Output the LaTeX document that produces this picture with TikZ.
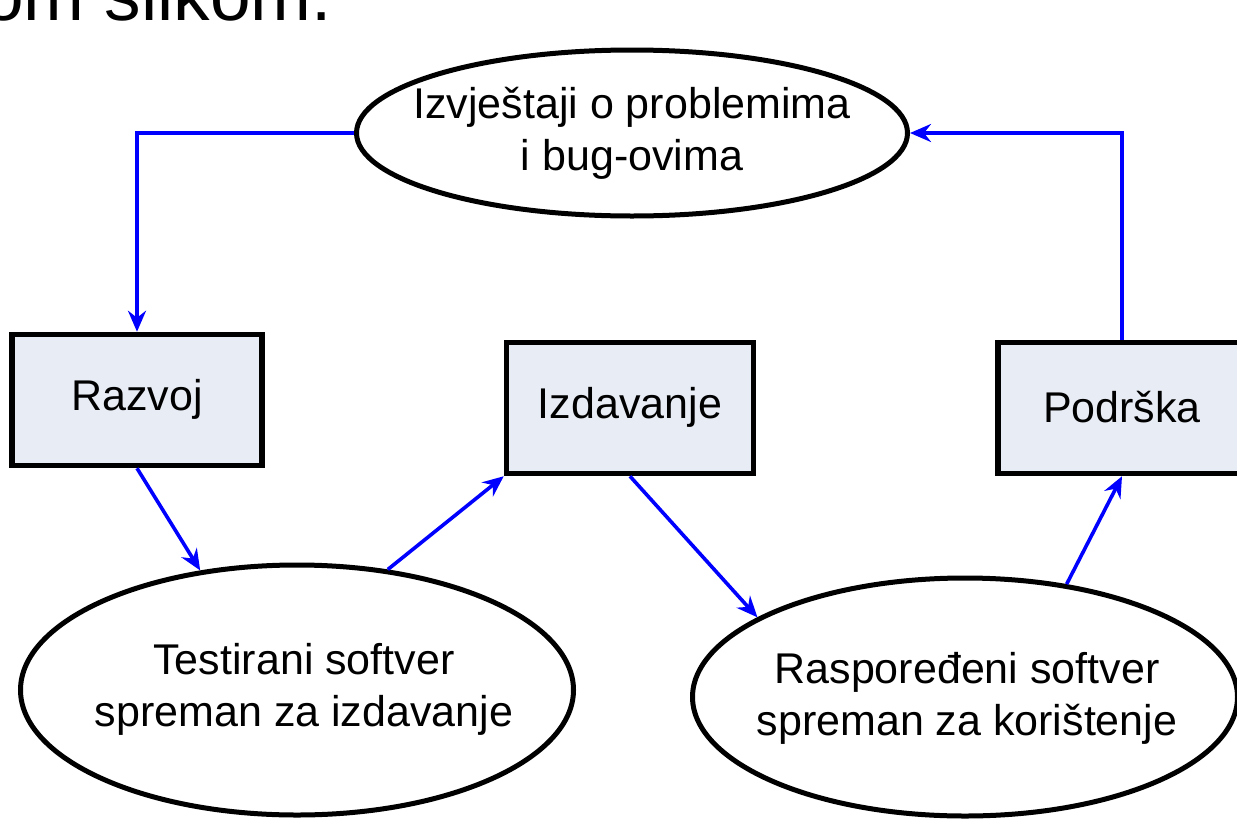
\documentclass[tikz,border=0pt]{standalone}
\usepackage{fontspec}
\setmainfont{Liberation Sans}
\usetikzlibrary{shapes.geometric,arrows.meta}
\definecolor{boxfill}{RGB}{232,236,244}
\definecolor{flowblue}{RGB}{0,0,255}
\tikzset{
  stagebox/.style={draw=black, line width=5.5pt, fill=boxfill, rectangle,
    minimum width=250pt, minimum height=131pt, inner sep=0pt},
  statenode/.style={draw=black, line width=5pt, ellipse, inner sep=0pt},
  caption/.style={font=\fontsize{43}{52}\selectfont, align=center, inner sep=0pt},
  flow/.style={draw=flowblue, line width=3.6pt,
    -{Stealth[length=21pt, width=18pt, inset=7pt]}},
}
\begin{document}
\begin{tikzpicture}[x=1pt, y=-1pt]
  \useasboundingbox (0,0) rectangle (1237,822);
  \clip (0,0) rectangle (1237,822);

  % heading line cut by the top edge
  \node[anchor=base west, font=\fontsize{73}{80}\selectfont, inner sep=0pt]
    (heading) at (-17,20) {om slikom.};

  % report ellipse and the three stage boxes
  \node[statenode, minimum width=551pt, minimum height=166pt] (reports) at (632,133) {};
  \node[caption] (reportstext) at (632,133) {Izvještaji o problemima\\i bug-ovima};

  \node[stagebox] (razvoj) at (137,400) {};
  \node[caption] (razvojtext) at (137,399) {Razvoj};

  \node[stagebox, minimum width=247pt] (izdavanje) at (630,408) {};
  \node[caption] (izdavanjetext) at (630,407) {Izdavanje};

  \node[stagebox, minimum width=248pt] (podrska) at (1122,408) {};
  \node[caption] (podrskatext) at (1122,407) {Podrška};

  % result ellipses
  \node[statenode, minimum width=553pt, minimum height=250pt] (tested) at (297,690) {};
  \node[caption] (testedtext) at (304,689) {Testirani softver\\spreman za izdavanje};

  \node[statenode, minimum width=545pt, minimum height=238pt] (deployed) at (965,697) {};
  \node[caption] (deployedtext) at (967,698) {Raspoređeni softver\\spreman za korištenje};

  % flow connectors
  \coordinate (leftturn) at (137,133);
  \coordinate (rightturn) at (1122,133);
  \draw[flow] (reports.west) -- (leftturn) -- (razvoj.north);
  \draw[flow] (razvoj.south) -- (tested.129);
  \draw[flow] (tested.53) -- (izdavanje.south west);
  \draw[flow] (izdavanje.south) -- (deployed.159);
  \draw[flow] (deployed.48) -- (podrska.south);
  \draw[flow] (podrska.north) -- (rightturn) -- (reports.east);
\end{tikzpicture}
\end{document}
